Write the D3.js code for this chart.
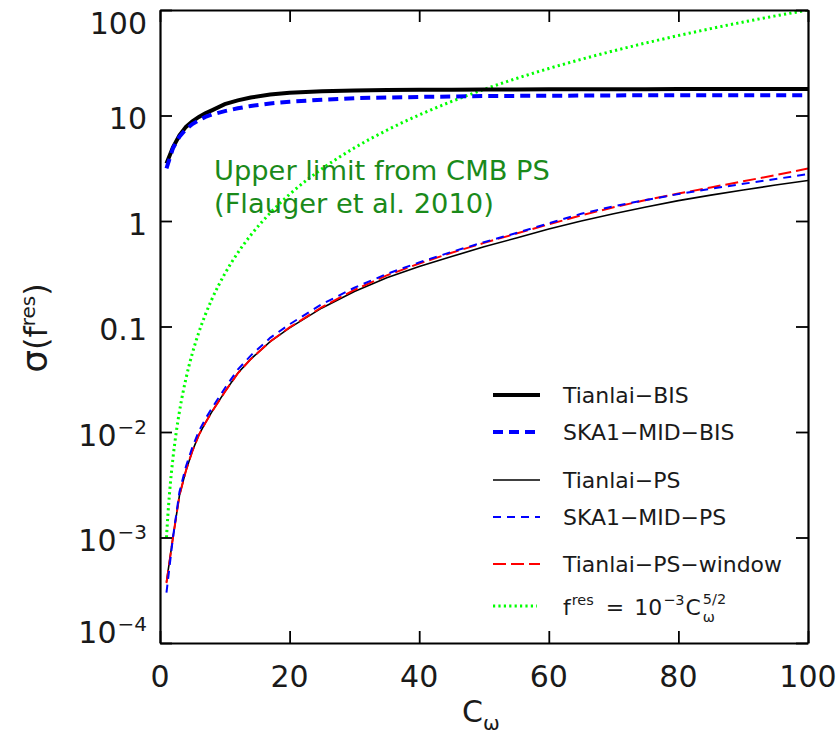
<!DOCTYPE html>
<html><head><meta charset="utf-8">
<script src="https://cdn.jsdelivr.net/npm/d3@7"></script>
<style>
html,body{margin:0;padding:0;background:#fff;}
svg{display:block;font-family:"DejaVu Sans",Lato,sans-serif;}
</style></head>
<body><svg id="chart" width="839" height="736"></svg>
<script>
// ---- data ----
const C = [1,2,3,4,5,6,7,8,10,12,14,17,20,25,30,35,40,45,50,55,60,65,70,75,80,85,90,95,100];
const tianlaiBIS = [3.5,5.0,6.5,7.8,8.8,9.7,10.5,11.2,12.8,13.9,14.8,15.8,16.4,17.0,17.3,17.4,17.5,17.55,17.6,17.65,17.7,17.7,17.7,17.75,17.8,17.8,17.8,17.8,17.8];
const skaBIS = [3.15,4.9,6.3,7.4,8.3,9.0,9.7,10.2,11.0,11.7,12.3,13.0,13.5,14.1,14.6,14.8,15.0,15.15,15.3,15.35,15.4,15.45,15.5,15.55,15.6,15.6,15.6,15.6,15.6];
const tianlaiPS = [3.8e-4,1.0e-3,2.5e-3,4.3e-3,6.6e-3,9.4e-3,0.0122,0.0155,0.024,0.036,0.049,0.072,0.097,0.150,0.215,0.29,0.37,0.46,0.57,0.69,0.84,1.0,1.17,1.36,1.56,1.76,1.97,2.19,2.42];
const skaPS = [3.0e-4,1.0e-3,2.7e-3,4.7e-3,7.2e-3,0.0102,0.0133,0.0168,0.026,0.039,0.053,0.078,0.105,0.163,0.233,0.315,0.405,0.51,0.63,0.77,0.95,1.17,1.38,1.58,1.80,2.02,2.25,2.50,2.78];
const tianlaiPSwindow = [3.7e-4,1.0e-3,2.5e-3,4.3e-3,6.6e-3,9.4e-3,0.0122,0.0155,0.024,0.036,0.049,0.072,0.098,0.153,0.222,0.305,0.395,0.50,0.62,0.76,0.93,1.13,1.35,1.58,1.82,2.08,2.38,2.72,3.15];
const limitC = [1,1.25,1.5,1.75,2,2.5,3,4,5,6,7,8,10,12,14,17,20,25,30,35,40,45,50,55,60,65,70,75,80,85,90,95,100];
const limitF = [0.001,0.001747,0.002756,0.004051,0.005657,0.009882,0.01559,0.032,0.0559,0.0882,0.1296,0.181,0.316,0.499,0.733,1.19,1.79,3.125,4.93,7.25,10.12,13.58,17.68,22.43,27.89,34.06,41.0,48.71,57.24,66.61,76.84,87.96,100];
const xTicks = [0,20,40,60,80,100];
const yTicks = [100,10,1,0.1,1e-2,1e-3,1e-4];
const yTickMain = ["100","10","1","0.1","10","10","10"];
const yTickExp  = ["","","","","\u22122","\u22123","\u22124"];
const legendLabels = ["Tianlai\u2212BIS","SKA1\u2212MID\u2212BIS","Tianlai\u2212PS","SKA1\u2212MID\u2212PS","Tianlai\u2212PS\u2212window"];
const annotation = ["Upper limit from CMB PS","(Flauger et al. 2010)"];

// ---- layout ----
const svg = d3.select("#chart");
const L = 160, R = 808, T = 10, B = 643;
const x = d3.scaleLinear().domain([0,100]).range([L,R]);
const y = d3.scaleLog().domain([1e-4,100]).range([B,T]);
const TXT = "#1a1a1a";

function fit(sel, target, base){ // set font-size so the text spans `target` px
  sel.attr("font-size", base);
  const w = sel.node().getComputedTextLength();
  const fs = base*target/w;
  sel.attr("font-size", fs);
  return fs;
}

const series = [
  {name:legendLabels[0], vals:tianlaiBIS, xs:C, color:"#000", w:4, dash:null},
  {name:legendLabels[1], vals:skaBIS, xs:C, color:"#0000ff", w:4, dash:"10,6"},
  {name:legendLabels[2], vals:tianlaiPS, xs:C, color:"#000", w:1.6, dash:null},
  {name:legendLabels[3], vals:skaPS, xs:C, color:"#0000ff", w:2, dash:"8,6"},
  {name:legendLabels[4], vals:tianlaiPSwindow, xs:C, color:"#ff0000", w:2, dash:"13,5"},
  {name:"fres", vals:limitF, xs:limitC, color:"#00ff00", w:3, dash:"2.2,3.2"}
];

const line = d3.line().x(d=>x(d[0])).y(d=>y(d[1]));
const plot = svg.append("g");
plot.append("defs").append("clipPath").attr("id","clip").append("rect")
  .attr("x",L).attr("y",T).attr("width",R-L).attr("height",B-T);

[5,2,4,3,0,1].forEach(i=>{
  const s = series[i];
  plot.append("path")
    .datum(s.xs.map((c,j)=>[c,s.vals[j]]))
    .attr("d", i===5 ? line.curve(d3.curveMonotoneX) : line.curve(d3.curveLinear))
    .attr("fill","none").attr("stroke",s.color).attr("stroke-width",s.w)
    .attr("stroke-dasharray",s.dash).attr("clip-path","url(#clip)");
});

// ---- axes (inward ticks on all sides) ----
const tickLen = 12;
const ax = svg.append("g");
ax.append("g").attr("transform",`translate(0,${B})`)
  .call(d3.axisBottom(x).tickValues(xTicks).tickSizeInner(-tickLen).tickSizeOuter(0).tickFormat(""));
ax.append("g").attr("transform",`translate(0,${T})`)
  .call(d3.axisTop(x).tickValues(xTicks).tickSizeInner(-tickLen).tickSizeOuter(0).tickFormat(""));
ax.append("g").attr("transform",`translate(${L},0)`)
  .call(d3.axisLeft(y).tickValues(yTicks).tickSizeInner(-tickLen).tickSizeOuter(0).tickFormat(""));
ax.append("g").attr("transform",`translate(${R},0)`)
  .call(d3.axisRight(y).tickValues(yTicks).tickSizeInner(-tickLen).tickSizeOuter(0).tickFormat(""));
ax.selectAll("path.domain").attr("stroke","#000").attr("stroke-width",2.2);
ax.selectAll(".tick line").attr("stroke","#000").attr("stroke-width",1.8);

// x tick labels
svg.append("g").selectAll("text").data(xTicks).join("text")
  .attr("x",d=>x(d)).attr("y",687).attr("text-anchor","middle")
  .attr("font-size",30).attr("fill",TXT).text(d=>d);

// y tick labels
const yl = svg.append("g");
yTicks.forEach((v,i)=>{
  let cy = y(v)+2.5;
  if(i===0) cy = 22.5;
  if(i===6) cy = 632;
  const t = yl.append("text").attr("text-anchor","end").attr("x",147)
    .attr("y",cy+11).attr("font-size",30).attr("fill",TXT);
  t.append("tspan").text(yTickMain[i]);
  if(yTickExp[i]) t.append("tspan").attr("dy",-12).attr("font-size",20).attr("dx",1).text(yTickExp[i]);
});

// x axis label
const xlab = svg.append("text").attr("x",462).attr("y",722).attr("font-size",30).attr("fill",TXT);
xlab.append("tspan").text("C");
xlab.append("tspan").attr("dy",8).attr("font-size",20).text("\u03c9");

// y axis label
const ylab = svg.append("text").attr("transform","translate(47,328) rotate(-90)")
  .attr("text-anchor","middle").attr("font-size",32).attr("fill",TXT);
ylab.append("tspan").attr("font-size",36).text("\u03c3");
ylab.append("tspan").text("(f");
ylab.append("tspan").attr("dy",-12).attr("font-size",20).text("res");
ylab.append("tspan").attr("dy",12).text(")");

// annotation
const ann = svg.append("g").attr("fill","#1a8a1a");
const a1 = ann.append("text").attr("x",214).attr("y",180).text(annotation[0]);
const afs = fit(a1, 336, 26);
ann.append("text").attr("x",214).attr("y",213).attr("font-size",afs).text(annotation[1]);

// ---- legend ----
const legY = [395,432,480,517,564,606];
const lg = svg.append("g");
const legText = [];
[0,1,2,3,4].forEach((si,k)=>{
  const s = series[si];
  lg.append("line").attr("x1",493).attr("x2",540).attr("y1",legY[k]).attr("y2",legY[k])
    .attr("stroke",s.color).attr("stroke-width",s.w).attr("stroke-dasharray",s.dash);
  legText.push(lg.append("text").attr("x",563).attr("y",legY[k]+8).attr("fill",TXT).text(s.name));
});
const lfs = fit(legText[4], 219, 22);
legText.forEach(t=>t.attr("font-size",lfs));

// green legend entry
const g5 = series[5];
lg.append("line").attr("x1",493).attr("x2",537).attr("y1",legY[5]).attr("y2",legY[5])
  .attr("stroke",g5.color).attr("stroke-width",g5.w).attr("stroke-dasharray",g5.dash);
const ft = lg.append("g").attr("fill",TXT);
const by = 615, sub = lfs*0.66;
let cx = 563;
function piece(txt, fs, dy, gap){
  const t = ft.append("text").attr("x",cx).attr("y",by+dy).attr("font-size",fs).text(txt);
  cx += t.node().getComputedTextLength() + (gap||0);
  return t;
}
piece("f", lfs, 0, 1);
piece("res", sub, -10, 12);
piece("=", lfs, 0, 10);
piece("10", lfs, 0, 1);
piece("\u22123", sub, -10, 1);
piece("C", lfs, 0, 2);
const sx = cx;
piece("5/2", sub, -11, 0);
cx = sx;
piece("\u03c9", sub, 7, 0);
</script></body></html>
